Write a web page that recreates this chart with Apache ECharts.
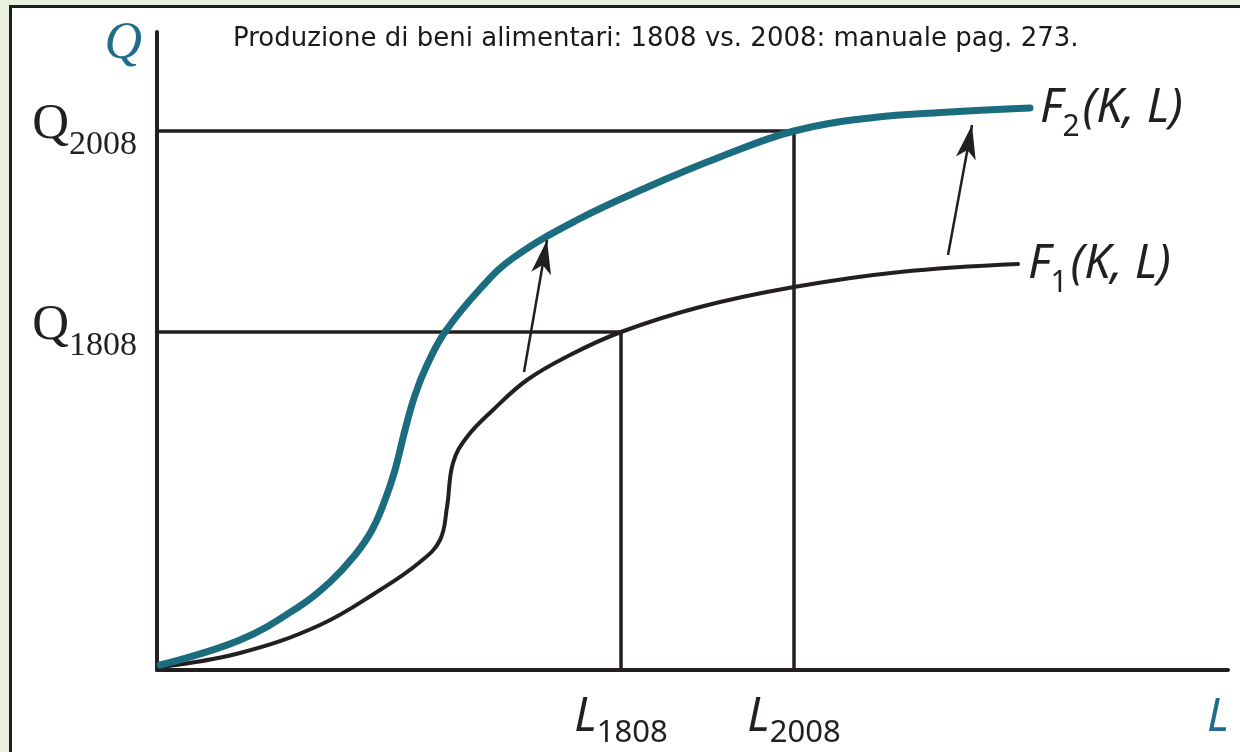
<!DOCTYPE html>
<html>
<head>
<meta charset="utf-8">
<title>Produzione di beni alimentari</title>
<script src="https://cdn.jsdelivr.net/npm/echarts@6.0.0/dist/echarts.min.js"></script>
<style>
	html, body { margin: 0; padding: 0; width: 1240px; height: 752px; overflow: hidden; background: #ebf1df; }
	#panel { position: absolute; left: 9px; top: 5px; width: 1240px; height: 760px; background: #fff; border-left: 3px solid #1e1e1e; border-top: 3px solid #1e1e1e; }
	#main { position: absolute; left: 0; top: 0; width: 1240px; height: 752px; }
</style>
</head>
<body>
<div id="panel"></div>
<div id="main"></div>
<script>
// curve (L sull'asse x, Q sull'asse y)
var f1L = [0.3, 8.3, 16.3, 22.3, 26.3, 28.3, 29.0, 29.6, 31.0, 33.6, 37.0, 41.3, 46.4, 54.3, 63.7, 74.3, 86.1];
var f1Q = [0.3, 1.7, 4.5, 8.0, 10.8, 13.0, 16.3, 20.7, 23.3, 26.0, 29.0, 31.5, 33.8, 36.3, 38.3, 39.8, 40.6];
var f2L = [0.3, 8.3, 14.3, 17.3, 19.8, 21.5, 22.8, 23.8, 24.8, 25.8, 27.0, 28.8, 32.3, 35.6, 42.0, 49.3, 56.3, 63.7, 71.3, 79.3, 87.3];
var f2Q = [0.5, 3.0, 6.4, 8.8, 11.5, 14.0, 17.0, 20.0, 24.0, 27.5, 30.5, 33.8, 38.1, 41.2, 45.0, 48.4, 51.3, 53.9, 55.2, 55.8, 56.2];

// livelli di riferimento
var years = ['1808', '2008'];
var qTicks = [33.8, 53.9];
var lTicks = [46.4, 63.7];

// frecce F1 -> F2
var arrowFrom = [[36.7, 29.8], [79.1, 41.5]];
var arrowTo = [[39.0, 43.0], [81.5, 54.5]];

var teal = '#1b6c7e';
var ink = '#231f20';

function zip(a, b) {
	var out = [];
	for (var i = 0; i < a.length; i++) out.push([a[i], b[i]]);
	return out;
}
function yearOf(ticks, v) {
	var best = 0;
	for (var i = 1; i < ticks.length; i++) {
		if (Math.abs(ticks[i] - v) < Math.abs(ticks[best] - v)) best = i;
	}
	return years[best];
}

var guideSeries = [];
for (var i = 0; i < years.length; i++) {
	guideSeries.push({
		type: 'line',
		data: [[0, qTicks[i]], [lTicks[i], qTicks[i]], [lTicks[i], 0]],
		showSymbol: false,
		silent: true,
		z: 1,
		lineStyle: { color: ink, width: 3.5 }
	});
}

var arrowData = [];
for (var j = 0; j < arrowFrom.length; j++) {
	arrowData.push([{ coord: arrowFrom[j] }, { coord: arrowTo[j] }]);
}

// etichetta F_n(K, L)
function fLabel(n) {
	return {
		show: true,
		distance: 10,
		padding: [17, 0, 0, 0],
		formatter: '{f|F}{s|' + n + '}{p|(K, L)}',
		rich: {
			f: { fontFamily: 'Noto Sans', fontStyle: 'italic', fontSize: 47, color: ink, verticalAlign: 'bottom', lineHeight: 52, padding: [0, 0, 10, 0] },
			s: { fontFamily: 'Noto Sans', fontSize: 30, color: ink, verticalAlign: 'bottom', lineHeight: 40, padding: [0, 3, 0, 0] },
			p: { fontFamily: 'Noto Sans', fontStyle: 'italic', fontSize: 47, color: ink, verticalAlign: 'bottom', lineHeight: 52, padding: [0, 0, 10, 0] }
		}
	};
}

var myChart = echarts.init(document.getElementById('main'), null, { renderer: 'canvas' });
var option = {
	animation: false,
	title: {
		text: 'Produzione di beni alimentari: 1808 vs. 2008: manuale pag. 273.',
		left: 228,
		top: 21,
		textStyle: { fontFamily: 'DejaVu Sans', fontSize: 26, fontWeight: 'normal', color: '#1a1a1a' }
	},
	grid: { left: 157, top: 32, width: 1071, height: 638, outerBoundsMode: 'none' },
	xAxis: {
		type: 'value', min: 0, max: 107.1,
		axisLine: { lineStyle: { color: ink, width: 4 } },
		axisTick: { show: false },
		splitLine: { show: false },
		axisLabel: {
			customValues: lTicks,
			margin: 29,
			formatter: function (v) { return '{l|L}{s|' + yearOf(lTicks, v) + '}'; },
			rich: {
				l: { fontFamily: 'Noto Sans', fontStyle: 'italic', fontSize: 47, color: ink, verticalAlign: 'bottom', lineHeight: 50, padding: [0, 0, 8, 0] },
				s: { fontFamily: 'Noto Sans', fontSize: 31, color: ink, verticalAlign: 'bottom', lineHeight: 40 }
			}
		}
	},
	yAxis: {
		type: 'value', min: 0, max: 63.8,
		axisLine: { lineStyle: { color: ink, width: 4 } },
		axisTick: { show: false },
		splitLine: { show: false },
		axisLabel: {
			customValues: qTicks,
			margin: 20,
			padding: [12, 0, 0, 0],
			formatter: function (v) { return '{q|Q}{s|' + yearOf(qTicks, v) + '}'; },
			rich: {
				q: { fontFamily: 'Liberation Serif', fontSize: 51, color: ink, verticalAlign: 'bottom', lineHeight: 50, padding: [0, 0, 12, 0] },
				s: { fontFamily: 'Liberation Serif', fontSize: 34, color: ink, verticalAlign: 'bottom', lineHeight: 40 }
			}
		}
	},
	graphic: [
		{ type: 'text', style: { text: 'Q', x: 142, y: 44, align: 'right', verticalAlign: 'middle', font: 'italic 52px "Liberation Serif"', fill: '#1f6c8c' } },
		{ type: 'text', style: { text: 'L', x: 1229, y: 718, align: 'right', verticalAlign: 'middle', font: 'italic 46px "Noto Sans"', fill: '#1f6c8c' } }
	],
	series: guideSeries.concat([
		{
			name: 'F1',
			type: 'line',
			data: zip(f1L, f1Q),
			smooth: 0.4,
			showSymbol: false,
			z: 3,
			lineStyle: { color: ink, width: 4, cap: 'round' },
			endLabel: fLabel(1),
			markLine: {
				silent: true,
				symbol: ['none', 'arrow'],
				symbolSize: [15, 34],
				label: { show: false },
				lineStyle: { color: ink, width: 2.5, type: 'solid' },
				data: arrowData
			}
		},
		{
			name: 'F2',
			type: 'line',
			data: zip(f2L, f2Q),
			smooth: 0.4,
			showSymbol: false,
			z: 4,
			lineStyle: { color: teal, width: 7, cap: 'round' },
			endLabel: fLabel(2)
		}
	])
};
myChart.setOption(option);
</script>
</body>
</html>
